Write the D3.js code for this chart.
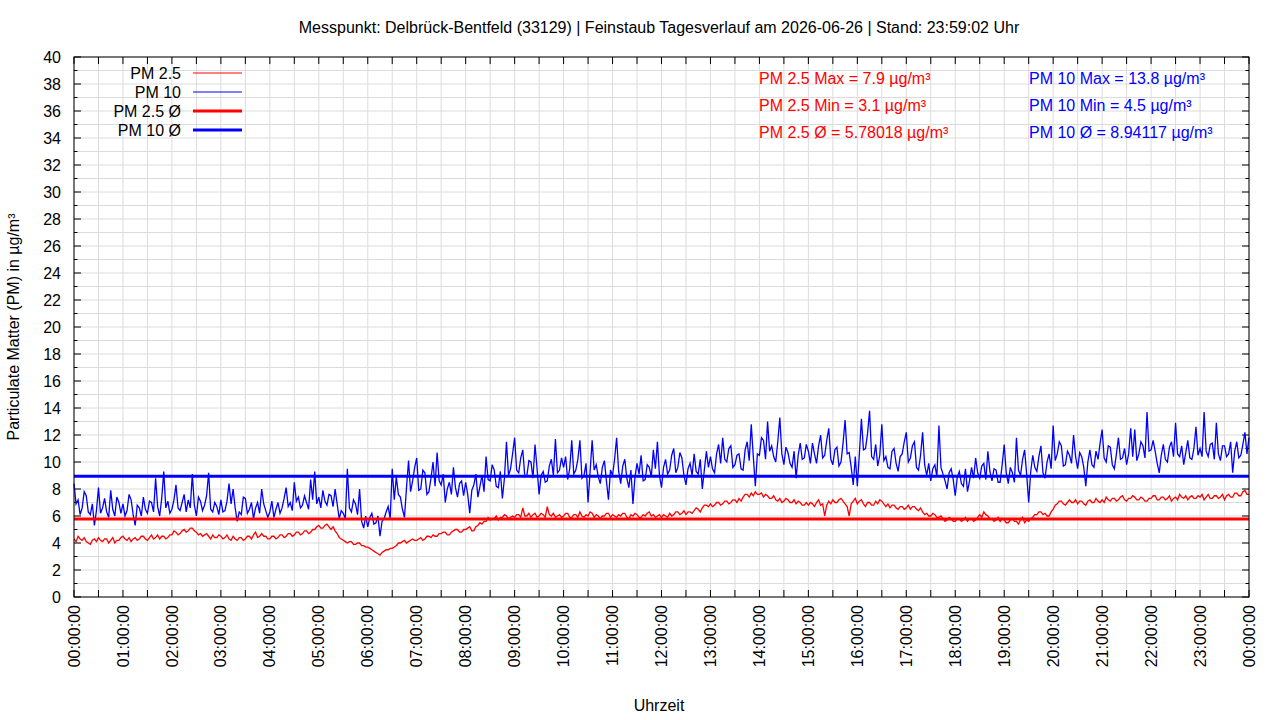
<!DOCTYPE html>
<html>
<head>
<meta charset="utf-8">
<script src="https://cdn.jsdelivr.net/npm/d3@7"></script>
<style>
  html, body { margin: 0; padding: 0; background: #fff; }
  svg { display: block; font-family: "Liberation Sans", Arial, sans-serif; }
</style>
</head>
<body>
<div id="svg-container"></div>
<script>
////////////////////////////////////////////////////////////////////
////////////////////////////  Data  ////////////////////////////////
// one reading every 2.5 minutes, 00:00 .. 24:00 (one row = one hour)
const stepMinutes = 2.5;

const pm25 = [
  4.3, 4.1, 4.5, 4.3, 4.2, 4.4, 4.1, 4.0, 3.9, 4.2, 4.3, 4.1, 4.4, 4.2, 4.1, 4.3, 4.3, 4.0, 4.2, 4.4, 4.0, 4.2, 4.2, 4.4,
  4.5, 4.3, 4.2, 4.4, 4.1, 4.3, 4.4, 4.2, 4.3, 4.5, 4.5, 4.3, 4.2, 4.4, 4.6, 4.3, 4.4, 4.6, 4.3, 4.5, 4.5, 4.3, 4.4, 4.6,
  4.6, 4.9, 4.8, 4.6, 4.7, 4.9, 5.0, 4.8, 4.9, 5.1, 5.1, 4.9, 4.8, 4.6, 4.7, 4.5, 4.6, 4.7, 4.5, 4.3, 4.6, 4.4, 4.4, 4.6,
  4.5, 4.3, 4.4, 4.6, 4.3, 4.2, 4.5, 4.3, 4.2, 4.4, 4.4, 4.2, 4.3, 4.5, 4.5, 4.3, 4.6, 4.8, 4.4, 4.5, 4.7, 4.5, 4.5, 4.3,
  4.3, 4.5, 4.5, 4.3, 4.4, 4.6, 4.6, 4.4, 4.5, 4.7, 4.7, 4.5, 4.6, 4.8, 4.8, 4.6, 4.7, 4.9, 4.9, 4.7, 4.8, 5.0, 5.0, 5.2,
  5.3, 5.1, 5.1, 5.3, 5.4, 5.2, 5.0, 5.2, 4.9, 4.7, 4.4, 4.3, 4.2, 4.1, 4.0, 4.1, 4.1, 3.9, 3.9, 4.0, 4.0, 3.8, 3.8, 3.7,
  3.7, 3.6, 3.5, 3.4, 3.3, 3.2, 3.1, 3.3, 3.4, 3.5, 3.5, 3.6, 3.6, 3.7, 3.8, 4.0, 4.0, 4.1, 4.2, 4.0, 4.1, 4.2, 4.3, 4.2,
  4.2, 4.3, 4.4, 4.2, 4.3, 4.5, 4.5, 4.4, 4.6, 4.5, 4.5, 4.7, 4.7, 4.8, 4.8, 4.6, 4.6, 4.8, 4.9, 5.0, 5.0, 4.8, 4.8, 5.0,
  5.0, 5.1, 5.2, 4.9, 4.9, 5.2, 5.3, 5.5, 5.4, 5.6, 5.6, 5.9, 5.7, 5.8, 5.8, 6.0, 5.7, 5.9, 5.9, 6.1, 6.0, 5.8, 5.9, 6.0,
  5.9, 6.1, 6.1, 5.9, 6.6, 6.0, 6.0, 6.2, 5.9, 6.1, 6.2, 5.9, 6.0, 6.2, 6.1, 5.9, 6.7, 6.1, 6.0, 6.2, 5.9, 6.0, 6.1, 5.9,
  6.0, 6.2, 6.2, 5.9, 5.9, 6.1, 6.1, 5.9, 6.3, 6.0, 5.9, 6.1, 6.0, 6.3, 6.2, 5.9, 6.1, 6.0, 5.8, 6.0, 6.0, 6.2, 6.2, 5.9,
  6.1, 6.0, 5.9, 6.1, 6.0, 6.2, 6.2, 5.9, 5.8, 6.1, 6.0, 6.2, 6.1, 5.9, 5.9, 6.1, 6.0, 6.2, 6.3, 6.0, 6.1, 5.9, 6.0, 6.1,
  5.9, 6.1, 6.0, 5.9, 6.2, 6.0, 6.1, 6.3, 6.3, 6.1, 6.2, 6.4, 6.1, 6.3, 6.3, 6.2, 6.4, 6.6, 6.5, 6.3, 6.6, 6.8, 6.8, 6.7,
  6.9, 6.7, 6.8, 7.0, 7.0, 6.8, 6.9, 7.1, 7.1, 6.9, 7.0, 7.2, 7.2, 7.0, 7.3, 7.1, 7.4, 7.6, 7.6, 7.4, 7.7, 7.5, 7.8, 7.6,
  7.6, 7.7, 7.4, 7.6, 7.5, 7.3, 7.3, 7.5, 7.2, 7.1, 7.3, 7.0, 7.1, 7.3, 7.2, 7.0, 7.0, 7.2, 6.9, 7.1, 7.0, 6.8, 6.8, 7.0,
  6.8, 7.0, 6.9, 6.7, 7.0, 7.2, 6.8, 6.9, 6.0, 6.8, 7.1, 6.9, 7.2, 7.0, 7.0, 7.2, 7.3, 7.1, 6.9, 6.7, 6.0, 6.9, 7.1, 7.3,
  6.9, 7.1, 7.2, 6.9, 6.7, 7.0, 7.0, 6.8, 6.8, 7.1, 6.9, 7.2, 7.1, 6.9, 6.7, 6.9, 6.6, 6.8, 6.8, 6.6, 6.5, 6.7, 6.7, 6.5,
  6.6, 6.8, 6.5, 6.7, 6.7, 6.5, 6.4, 6.6, 6.3, 6.1, 6.2, 6.0, 6.0, 6.2, 6.1, 5.9, 5.9, 6.0, 5.8, 5.6, 5.7, 5.9, 5.8, 5.6,
  5.6, 5.8, 5.8, 5.6, 5.7, 5.9, 5.6, 5.8, 5.8, 5.6, 5.7, 5.9, 6.1, 5.9, 6.3, 6.1, 6.0, 5.8, 5.8, 5.6, 5.7, 5.9, 5.6, 5.8,
  5.7, 5.5, 5.5, 5.7, 5.8, 5.6, 5.6, 5.4, 5.7, 5.9, 5.5, 5.7, 5.6, 5.8, 5.9, 6.1, 6.1, 6.3, 6.3, 6.1, 6.2, 6.0, 6.0, 6.3,
  6.5, 6.8, 6.9, 7.1, 7.1, 6.9, 6.8, 7.0, 7.2, 7.0, 7.0, 7.2, 6.9, 7.1, 7.1, 6.9, 6.8, 7.1, 7.2, 7.0, 7.0, 7.3, 7.1, 7.0,
  7.2, 7.0, 7.4, 7.2, 7.1, 7.3, 7.3, 7.1, 7.2, 7.4, 7.5, 7.2, 7.1, 7.3, 7.3, 7.5, 7.4, 7.2, 7.2, 7.4, 7.3, 7.1, 7.1, 7.3,
  7.3, 7.5, 7.5, 7.2, 7.2, 7.4, 7.4, 7.2, 7.3, 7.5, 7.1, 7.3, 7.4, 7.2, 7.6, 7.4, 7.3, 7.5, 7.2, 7.4, 7.5, 7.3, 7.3, 7.5,
  7.4, 7.6, 7.2, 7.4, 7.6, 7.3, 7.3, 7.5, 7.5, 7.3, 7.4, 7.6, 7.2, 7.5, 7.6, 7.4, 7.4, 7.7, 7.7, 7.5, 7.5, 7.8, 7.9, 7.6,
  7.6
];

const pm10 = [
  8.4, 6.9, 7.2, 6.1, 6.6, 7.8, 7.5, 6.3, 6.1, 6.9, 5.3, 6.4, 8.1, 6.2, 6.6, 7.3, 6.3, 5.9, 7.9, 6.5, 6.0, 7.4, 7.0, 6.2,
  6.9, 6.0, 6.4, 7.6, 7.2, 6.1, 5.3, 6.8, 6.6, 6.0, 7.4, 6.5, 6.2, 7.1, 7.0, 6.3, 8.8, 6.7, 6.0, 7.3, 9.3, 6.6, 7.1, 6.2,
  6.5, 7.2, 8.3, 6.6, 6.4, 7.0, 7.6, 6.3, 7.2, 6.6, 9.1, 6.8, 6.0, 7.4, 7.1, 6.4, 6.8, 7.5, 9.2, 6.5, 6.3, 7.0, 6.7, 6.1,
  7.2, 6.3, 6.4, 7.1, 8.4, 6.9, 8.0, 6.6, 5.6, 6.3, 6.1, 7.4, 7.3, 6.2, 6.5, 7.0, 5.8, 6.6, 7.0, 6.2, 8.0, 6.9, 6.4, 5.9,
  6.3, 7.1, 5.9, 6.5, 7.0, 6.2, 6.6, 7.3, 8.1, 6.7, 7.0, 6.4, 8.5, 7.1, 7.4, 6.6, 6.8, 7.5, 7.0, 6.5, 8.7, 7.2, 9.3, 6.9,
  7.4, 6.6, 7.9, 7.1, 6.8, 7.6, 7.5, 6.7, 8.0, 6.9, 5.8, 6.4, 6.2, 5.8, 9.5, 6.6, 6.3, 7.2, 6.9, 6.1, 8.0, 5.6, 5.1, 6.0,
  5.2, 5.9, 6.2, 5.4, 5.5, 6.0, 4.5, 5.6, 5.8, 6.3, 6.7, 5.8, 9.5, 7.2, 8.9, 7.6, 7.4, 6.5, 5.9, 8.1, 10.1, 7.8, 8.6, 9.6,
  10.3, 7.9, 8.0, 9.4, 9.2, 7.6, 7.8, 8.8, 10.0, 8.2, 10.7, 8.6, 8.3, 9.1, 7.0, 8.0, 8.5, 7.6, 9.6, 8.1, 7.4, 8.4, 8.6, 7.5,
  8.5, 7.6, 6.2, 7.9, 8.3, 9.1, 7.4, 8.2, 9.0, 7.8, 10.4, 8.7, 8.6, 9.8, 9.4, 8.2, 8.1, 9.3, 7.3, 8.8, 11.5, 9.0, 9.5, 10.6,
  11.8, 9.4, 9.2, 10.3, 10.9, 8.9, 9.0, 10.1, 10.0, 8.8, 11.3, 9.5, 7.6, 9.0, 9.3, 8.5, 8.6, 9.7, 10.2, 9.0, 11.7, 9.2, 9.4, 10.3,
  9.6, 10.4, 8.7, 9.5, 11.6, 9.1, 9.4, 10.2, 11.6, 8.8, 9.0, 9.9, 7.0, 9.3, 11.6, 9.4, 9.8, 8.9, 8.4, 9.6, 10.1, 8.6, 7.2, 9.4,
  9.0, 10.2, 11.8, 9.3, 8.4, 9.7, 10.2, 8.8, 8.1, 9.4, 6.9, 8.9, 9.9, 9.1, 10.5, 8.6, 8.7, 9.8, 9.6, 8.9, 10.9, 9.5, 11.5, 9.0,
  8.1, 9.6, 10.2, 9.1, 9.4, 10.5, 11.0, 9.2, 9.6, 10.7, 10.3, 9.0, 8.3, 9.5, 9.9, 9.0, 10.6, 9.3, 9.1, 10.2, 8.0, 9.4, 10.8, 9.6,
  10.4, 9.5, 9.2, 10.6, 11.3, 9.9, 11.8, 10.2, 10.0, 11.0, 11.2, 9.6, 9.8, 10.5, 10.6, 9.5, 9.4, 10.9, 11.5, 10.1, 12.8, 10.4, 8.2, 10.6,
  10.5, 11.8, 11.6, 10.2, 13.0, 10.8, 11.2, 10.4, 10.0, 11.5, 13.3, 10.6, 9.8, 11.1, 10.7, 9.9, 9.6, 10.8, 8.8, 10.5, 11.4, 10.2, 10.3, 11.3,
  10.8, 9.9, 11.4, 10.6, 9.9, 11.2, 12.0, 10.3, 10.5, 11.6, 12.5, 10.2, 9.8, 10.9, 11.1, 9.7, 10.0, 11.4, 13.1, 10.6, 10.7, 9.6, 8.3, 10.4,
  8.2, 10.6, 13.2, 10.9, 11.0, 12.1, 13.8, 10.4, 10.2, 11.3, 9.7, 10.5, 12.8, 10.1, 10.4, 9.6, 9.5, 10.8, 11.0, 9.9, 9.3, 10.4, 10.6, 11.5,
  12.2, 10.0, 10.3, 11.2, 11.5, 9.6, 9.4, 10.5, 12.2, 9.8, 9.0, 9.9, 8.6, 9.5, 9.8, 8.9, 12.7, 9.6, 9.1, 8.6, 8.0, 9.2, 9.5, 8.7,
  7.5, 8.9, 9.3, 8.4, 8.2, 9.5, 7.8, 8.6, 9.6, 8.8, 10.3, 9.2, 8.8, 9.7, 9.9, 8.7, 10.8, 9.3, 8.6, 9.5, 9.4, 8.5, 8.5, 9.8,
  11.3, 9.2, 8.4, 9.6, 9.2, 8.5, 11.8, 9.4, 9.0, 10.2, 10.9, 9.1, 7.0, 9.3, 10.5, 9.6, 9.3, 10.4, 11.2, 9.2, 8.8, 10.0, 10.6, 9.5,
  12.7, 10.1, 10.6, 11.5, 11.2, 9.7, 9.8, 10.8, 10.5, 9.9, 12.0, 10.4, 9.5, 10.7, 10.4, 9.6, 8.2, 10.0, 10.9, 9.8, 9.6, 10.8, 10.2, 11.4,
  12.4, 10.3, 10.0, 11.2, 11.1, 9.8, 9.5, 10.6, 11.8, 10.2, 10.3, 11.0, 9.8, 10.6, 12.5, 10.4, 12.4, 10.1, 10.6, 11.5, 11.2, 10.3, 13.7, 10.8,
  10.9, 11.6, 10.8, 9.9, 9.2, 10.5, 11.3, 10.2, 10.0, 11.1, 11.5, 10.4, 12.9, 10.6, 10.4, 11.2, 9.8, 10.7, 11.6, 10.3, 10.2, 11.0, 12.6, 10.5,
  11.0, 10.4, 13.7, 10.8, 10.4, 11.3, 11.4, 10.2, 12.9, 10.6, 10.1, 11.2, 11.2, 10.4, 10.6, 11.5, 9.2, 10.8, 11.5, 10.3, 10.5, 11.3, 12.2, 10.6,
  11.8
];

const pm25Mean = 5.78018;
const pm10Mean = 8.94117;

const hourTicks = [0, 1, 2, 3, 4, 5, 6, 7, 8, 9, 10, 11, 12, 13, 14, 15, 16, 17, 18, 19, 20, 21, 22, 23, 24];
const hourLabels = ["00:00:00", "01:00:00", "02:00:00", "03:00:00", "04:00:00", "05:00:00", "06:00:00",
  "07:00:00", "08:00:00", "09:00:00", "10:00:00", "11:00:00", "12:00:00", "13:00:00", "14:00:00",
  "15:00:00", "16:00:00", "17:00:00", "18:00:00", "19:00:00", "20:00:00", "21:00:00", "22:00:00",
  "23:00:00", "00:00:00"];

const titleText = "Messpunkt: Delbrück-Bentfeld (33129) | Feinstaub Tagesverlauf am 2026-06-26 | Stand: 23:59:02 Uhr";
const statsPm25 = ["PM 2.5 Max = 7.9 µg/m³", "PM 2.5 Min = 3.1 µg/m³", "PM 2.5 Ø = 5.78018 µg/m³"];
const statsPm10 = ["PM 10 Max = 13.8 µg/m³", "PM 10 Min = 4.5 µg/m³", "PM 10 Ø = 8.94117 µg/m³"];
const legendItems = [
  { label: "PM 2.5", color: "#ff0000", width: 1 },
  { label: "PM 10", color: "#0000ff", width: 1 },
  { label: "PM 2.5 Ø", color: "#ff0000", width: 3 },
  { label: "PM 10 Ø", color: "#0000ff", width: 3 }
];

////////////////////////////////////////////////////////////////////
////////////////////////////  Init  ////////////////////////////////
const width = 1280;
const height = 720;
const margin = { top: 57, right: 31, bottom: 123, left: 74 };

const svg = d3.select("#svg-container").append("svg")
  .attr("width", width).attr("height", height);

// scales (x in minutes of the day)
const xScale = d3.scaleLinear().domain([0, 24 * 60]).range([margin.left, width - margin.right]);
const yScale = d3.scaleLinear().domain([0, 40]).range([height - margin.bottom, margin.top]);

const x0 = xScale.range()[0], x1 = xScale.range()[1];
const y0 = yScale.range()[0], y1 = yScale.range()[1];

// grid
const halfHours = d3.range(0, 24 * 60 + 1, 30);
svg.append("g").selectAll("line").data(halfHours).join("line")
  .attr("x1", d => xScale(d)).attr("x2", d => xScale(d))
  .attr("y1", y0).attr("y2", y1)
  .attr("stroke", "#dcdcdc").attr("stroke-width", 1);
svg.append("g").selectAll("line").data(d3.range(0, 41, 1)).join("line")
  .attr("x1", x0).attr("x2", x1)
  .attr("y1", d => yScale(d)).attr("y2", d => yScale(d))
  .attr("stroke", "#dcdcdc").attr("stroke-width", 1);

// tics, pointing inwards on all four sides
const tics = svg.append("g").attr("stroke", "#000").attr("stroke-width", 1);
halfHours.forEach(m => {
  tics.append("line").attr("x1", xScale(m)).attr("x2", xScale(m)).attr("y1", y0).attr("y2", y0 - 7);
  tics.append("line").attr("x1", xScale(m)).attr("x2", xScale(m)).attr("y1", y1).attr("y2", y1 + 7);
});
d3.range(0, 41, 1).forEach(v => {
  const len = v % 2 === 0 ? 7 : 3.5;
  tics.append("line").attr("x1", x0).attr("x2", x0 + len).attr("y1", yScale(v)).attr("y2", yScale(v));
  tics.append("line").attr("x1", x1).attr("x2", x1 - len).attr("y1", yScale(v)).attr("y2", yScale(v));
});

// y labels
svg.append("g").selectAll("text").data(d3.range(0, 41, 2)).join("text")
  .attr("x", x0 - 13).attr("y", d => yScale(d)).attr("dy", "0.35em")
  .attr("text-anchor", "end").style("font-size", "16px").attr("fill", "#000")
  .text(d => d);

// x labels, rotated
svg.append("g").selectAll("text").data(hourTicks).join("text")
  .attr("transform", d => `translate(${xScale(d * 60)},${y0 + 8}) rotate(-90)`)
  .attr("dy", "0.35em").attr("text-anchor", "end")
  .style("font-size", "16px").attr("fill", "#000")
  .text((d, i) => hourLabels[i]);

////////////////////////////////////////////////////////////////////
////////////////////////////  Lines  ///////////////////////////////
const line = d3.line()
  .x((d, i) => xScale(i * stepMinutes))
  .y(d => yScale(d));

svg.append("path").datum(pm25).attr("d", line)
  .attr("fill", "none").attr("stroke", "#ff0000").attr("stroke-width", 1.3);
svg.append("path").datum(pm10).attr("d", line)
  .attr("fill", "none").attr("stroke", "#0000ff").attr("stroke-width", 1.3);

svg.append("line").attr("x1", x0).attr("x2", x1)
  .attr("y1", yScale(pm25Mean)).attr("y2", yScale(pm25Mean))
  .attr("stroke", "#ff0000").attr("stroke-width", 3);
svg.append("line").attr("x1", x0).attr("x2", x1)
  .attr("y1", yScale(pm10Mean)).attr("y2", yScale(pm10Mean))
  .attr("stroke", "#0000ff").attr("stroke-width", 3);

// border
svg.append("rect").attr("x", x0).attr("y", y1)
  .attr("width", x1 - x0).attr("height", y0 - y1)
  .attr("fill", "none").attr("stroke", "#000").attr("stroke-width", 1);

////////////////////////////////////////////////////////////////////
////////////////////////////  Texts  ///////////////////////////////
svg.append("text").attr("x", 659).attr("y", 33)
  .attr("text-anchor", "middle").style("font-size", "16px").text(titleText);

svg.append("text").attr("x", 659).attr("y", 711)
  .attr("text-anchor", "middle").style("font-size", "16px").text("Uhrzeit");

svg.append("text")
  .attr("transform", "translate(19,327) rotate(-90)")
  .attr("text-anchor", "middle").style("font-size", "16px")
  .text("Particulate Matter (PM) in µg/m³");

// legend
const legend = svg.append("g");
legendItems.forEach((d, i) => {
  const ly = 73 + i * 19;
  legend.append("text").attr("x", 181).attr("y", ly).attr("dy", "0.35em")
    .attr("text-anchor", "end").style("font-size", "16px").text(d.label);
  legend.append("line").attr("x1", 193).attr("x2", 242).attr("y1", ly).attr("y2", ly)
    .attr("stroke", d.color).attr("stroke-width", d.width);
});

// statistics
statsPm25.forEach((t, i) => {
  svg.append("text").attr("x", 759).attr("y", 78 + i * 27).attr("dy", "0.35em")
    .style("font-size", "16px").attr("fill", "#ff0000").text(t);
});
statsPm10.forEach((t, i) => {
  svg.append("text").attr("x", 1029).attr("y", 78 + i * 27).attr("dy", "0.35em")
    .style("font-size", "16px").attr("fill", "#0000ff").text(t);
});
</script>
</body>
</html>
